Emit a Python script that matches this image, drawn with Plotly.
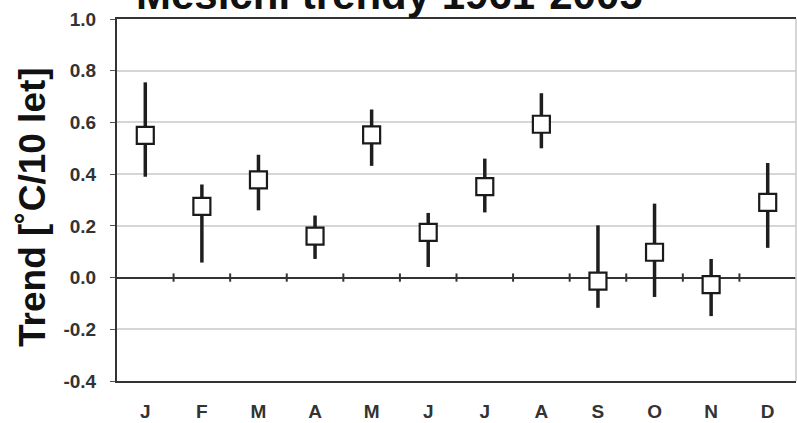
import plotly.graph_objects as go

months = ["J", "F", "M", "A", "M", "J", "J", "A", "S", "O", "N", "D"]
trend = [0.55, 0.275, 0.378, 0.16, 0.552, 0.175, 0.352, 0.593, -0.014, 0.098, -0.027, 0.291]
upper = [0.755, 0.36, 0.475, 0.24, 0.65, 0.25, 0.46, 0.713, 0.202, 0.286, 0.072, 0.443]
lower = [0.39, 0.058, 0.26, 0.072, 0.432, 0.041, 0.252, 0.5, -0.117, -0.075, -0.149, 0.115]
y_ticks = [-0.4, -0.2, 0.0, 0.2, 0.4, 0.6, 0.8, 1.0]

FONT = "Liberation Sans, Arial, sans-serif"
idx = list(range(len(months)))

fig = go.Figure()
fig.add_trace(go.Scatter(
    x=idx, y=trend, mode="markers",
    marker=dict(symbol="square", size=17, color="white",
                line=dict(color="#1a1a1a", width=2.2)),
    error_y=dict(type="data", symmetric=False,
                 array=[u - t for u, t in zip(upper, trend)],
                 arrayminus=[t - l for t, l in zip(trend, lower)],
                 thickness=3.5, width=0, color="#1e1e1e"),
    showlegend=False,
))

# small cross ticks on the zero line at category boundaries
for k in range(len(months) - 1):
    fig.add_shape(type="line", xref="x", yref="y",
                  x0=k + 0.5, x1=k + 0.5, y0=-0.016, y1=0.016,
                  line=dict(color="#333", width=2))

# right border (light)
fig.add_shape(type="line", xref="paper", yref="paper", x0=1, x1=1, y0=0, y1=1,
              line=dict(color="#c8c8c8", width=1.5))

fig.add_annotation(text="<b>Měsíční trendy 1961-2005</b>", xref="paper", yref="paper",
                   x=(389 - 117) / 679, y=1, xanchor="center", yanchor="bottom",
                   yshift=-1, showarrow=False,
                   font=dict(family=FONT, size=42, color="#111"))

# y-axis title
fig.add_annotation(text="<b>Trend [˚C/10 let]</b>", xref="paper", yref="paper",
                   x=0, y=(381 - 207) / 362, xanchor="center", yanchor="middle",
                   xshift=-85, textangle=-90, showarrow=False,
                   font=dict(family=FONT, size=37, color="#111"))

fig.update_layout(
    width=797, height=423,
    margin=dict(l=117, r=1, t=19, b=42),
    paper_bgcolor="white", plot_bgcolor="white",
    font=dict(family=FONT, color="#333"),
    xaxis=dict(
        range=[-0.5, len(months) - 0.5],
        tickmode="array", tickvals=idx, ticktext=[f"<b>{m}</b>" for m in months],
        showgrid=False, zeroline=False,
        showline=True, linecolor="#333", linewidth=2, mirror=True,
        ticks="", ticklabelstandoff=12,
        tickfont=dict(family=FONT, size=19, color="#333"),
    ),
    yaxis=dict(
        range=[-0.4, 1.0],
        tickmode="array", tickvals=y_ticks,
        ticktext=[f"<b>{v:.1f}</b>" for v in y_ticks],
        showgrid=True, gridcolor="#d6d6d6", gridwidth=2,
        zeroline=True, zerolinecolor="#333", zerolinewidth=2,
        showline=True, linecolor="#333", linewidth=2,
        ticks="outside", ticklen=5, tickcolor="#555", tickwidth=1,
        ticklabelstandoff=10,
        tickfont=dict(family=FONT, size=19, color="#333"),
    ),
)

fig.write_html("out.html")
